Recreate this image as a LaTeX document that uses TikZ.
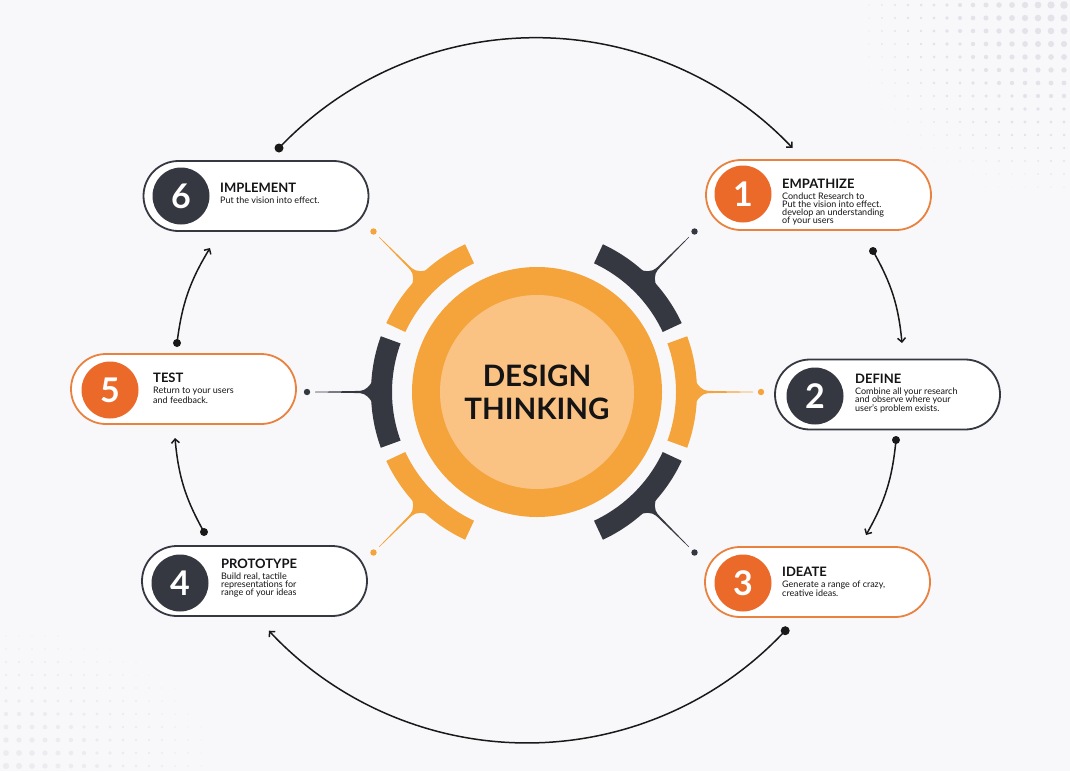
\documentclass[tikz,border=0pt]{standalone}
\usepackage{fontspec}
\setmainfont{Lato}
\usetikzlibrary{arrows.meta,calc}
\definecolor{bg}{HTML}{F8F8FA}
\definecolor{orS}{HTML}{F5A33B}
\definecolor{orL}{HTML}{FBC383}
\definecolor{darkc}{HTML}{353840}
\definecolor{numor}{HTML}{EB6A2A}
\definecolor{boxor}{HTML}{E9813F}
\definecolor{txt}{HTML}{141416}
\definecolor{dotc}{HTML}{E3E3E9}
\definecolor{dotd}{HTML}{ECECF0}
\begin{document}
\begin{tikzpicture}[x=1pt,y=1pt,
  pill/.style={draw=#1, line width=1.8pt, rounded corners=35pt, fill=white,
    minimum width=225pt, minimum height=70pt, inner sep=0pt},
  numc/.style={circle, fill=#1, minimum size=57pt, inner sep=0pt, text=white,
    font=\fontsize{34}{34}\selectfont\bfseries},
  lab/.style={anchor=north west, align=left, inner sep=0pt, text=txt,
    font=\fontsize{9}{8.2}\selectfont},
  conn/.style={line width=1.5pt, black!90, -{Straight Barb[length=4pt,width=8pt]}},
  enddot/.style={fill=black!90}
]
\fill[bg] (0,0) rectangle (1070,-771);
\useasboundingbox (0,0) rectangle (1070,-771);
% halftone decoration
\foreach \i in {0,...,20}{
  \foreach \j in {0,...,18}{
    \pgfmathsetmacro{\rr}{3.8-0.21*veclen(\i,\j*1.1)}
    \ifdim\rr pt>0.3pt
      \fill[dotc] (1064-13*\i,-5-13*\j) circle (\rr);
    \fi
}}
\foreach \i in {0,...,22}{
  \foreach \j in {0,...,12}{
    \pgfmathsetmacro{\rr}{3.2-0.2*veclen(\i*0.85,\j*1.3)}
    \ifdim\rr pt>0.3pt
      \fill[dotd] (6+13*\i,-766+13*\j) circle (\rr);
    \fi
}}
% ring segments with spikes
\foreach \a/\c in {0/orS,45/darkc,135/orS,180/darkc,225/orS,315/darkc}{
  \begin{scope}[shift={(534,-392)}, rotate=\a]
    \fill[\c] (-20:163) arc[start angle=-20,end angle=20,radius=163]
      -- (20:142) arc[start angle=20,end angle=-20,radius=142] -- cycle;
    \fill[\c] (160,-14) .. controls (164,-6) and (168,-1.6) .. (174,-1.1)
      -- (219,-0.25) -- (219,0.25) -- (174,1.1)
      .. controls (168,1.6) and (164,6) .. (160,14) -- cycle;
    \fill[\c] (227,0) circle (3.2);
  \end{scope}
}
% centre
\node[circle, fill=orS, minimum size=250pt, inner sep=0pt] (outer) at (537,-392) {};
\node[circle, fill=orL, minimum size=194pt, inner sep=0pt] (inner) at (537,-392) {};
\node[align=center, inner sep=0pt, text=txt,
  font=\fontsize{29.5}{33}\selectfont\bfseries] (title) at (537,-392) {DESIGN\\THINKING};
% boxes
\node[pill=boxor] (b1) at (818.5,-195) {};
\node[pill=darkc] (b2) at (887.5,-394.5) {};
\node[pill=boxor] (b3) at (817.5,-582) {};
\node[pill=darkc] (b4) at (254.5,-581) {};
\node[pill=boxor] (b5) at (183.5,-389) {};
\node[pill=darkc] (b6) at (256,-196) {};
\node[numc=numor] (n1) at (743,-194) {1};
\node[numc=darkc] (n2) at (815,-396) {2};
\node[numc=numor] (n3) at (743,-583) {3};
\node[numc=darkc] (n4) at (180,-583) {4};
\node[numc=numor] (n5) at (110,-390) {5};
\node[numc=darkc] (n6) at (181,-196) {6};
\node[lab] (l1) at (782,-179) {{\fontsize{13}{12}\selectfont\bfseries EMPATHIZE}\\[2.5pt]Conduct Research to\\Put the vision into effect.\\develop an understanding\\of your users};
\node[lab] (l2) at (855,-374) {{\fontsize{13}{12}\selectfont\bfseries DEFINE}\\[2.5pt]Combine all your research\\and observe where your\\user's problem exists.};
\node[lab] (l3) at (782,-567) {{\fontsize{13}{12}\selectfont\bfseries IDEATE}\\[2.5pt]Generate a range of crazy,\\creative ideas.};
\node[lab] (l4) at (221,-559) {{\fontsize{13}{12}\selectfont\bfseries PROTOTYPE}\\[2.5pt]Build real, tactile\\representations for\\range of your ideas};
\node[lab] (l5) at (153,-373) {{\fontsize{13}{12}\selectfont\bfseries TEST}\\[2.5pt]Return to your users\\[1.5pt]and feedback.};
\node[lab] (l6) at (220,-183) {{\fontsize{13}{12}\selectfont\bfseries IMPLEMENT}\\[2.5pt]Put the vision into effect.};
% connectors
\coordinate (t1) at (279,-148);
\coordinate (t2) at (785.2,-630.7);
\coordinate (r1a) at (873,-251);
\coordinate (r1b) at (902,-343);
\coordinate (r2a) at (896,-440);
\coordinate (r2b) at (866,-535);
\coordinate (q1a) at (204,-532);
\coordinate (q1b) at (175,-438);
\coordinate (q2a) at (177,-343);
\coordinate (q2b) at (210,-248);
\draw[conn] (t1) arc[start angle=136.5, end angle=43.5, radius=354];
\draw[conn] (t2) arc[start angle=-43, end angle=-137, radius=353];
\draw[conn] (r1a) to[bend left=12] (r1b);
\draw[conn] (r2a) to[bend left=12] (r2b);
\draw[conn] (q1a) to[bend left=12] (q1b);
\draw[conn] (q2a) to[bend left=12] (q2b);
\foreach \p in {t1,t2}{\fill[enddot] (\p) circle (4.5);}
\foreach \p in {r1a,r2a,q1a,q2a}{\fill[enddot] (\p) circle (4);}
\end{tikzpicture}
\end{document}
